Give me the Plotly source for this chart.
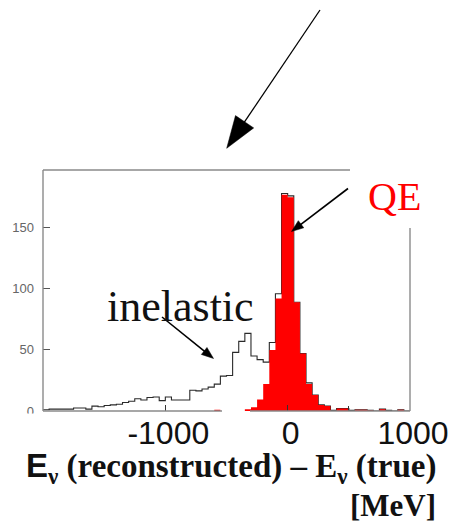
import math
import plotly.graph_objects as go

# ---------------- data ----------------
BIN_START = -2000          # MeV, lower edge of first bin
BIN_WIDTH = 50             # MeV

# all events (black outline histogram), 60 bins from -2000 to 1000 MeV
all_events = [1, 1.5, 1.5, 1.5, 1.5, 2.5, 2.5, 1.5, 4, 3.5,
              4.5, 5, 5.5, 7, 8, 10, 9, 11, 11.5, 8.5,
              11.5, 9, 9, 9, 17, 16.5, 18, 19.5, 22, 28.5,
              29, 48, 57, 63.5, 45, 42, 40, 56, 96, 178,
              176, 89, 47, 23, 13, 5, 4, 0.5, 2, 2,
              0.5, 1, 1, 0.5, 0, 1.5, 0.5, 0, 1, 0]

# quasi-elastic events (red filled histogram)
qe_events = [0, 0, 0, 0, 0, 0, 0, 0, 0, 0,
             0, 0, 0, 0, 0, 0, 0, 0, 0, 0,
             0, 0, 0, 0, 0, 0, 0, 0, 1, 0,
             0, 0, 0, 1.5, 3, 9.5, 22, 50, 92, 177,
             175, 89, 47, 22, 13, 5, 4, 0, 2, 2,
             0, 1, 1, 0.5, 0, 1.5, 0, 0, 1, 0]

x_tick_vals = [-1000, 0, 1000]
x_tick_text = ["-1000", "0", "1000"]
x_minor_tick_vals = [500]
y_tick_vals = [0, 50, 100, 150]
y_tick_text = ["0", "50", "100", "150"]

X_RANGE = [-2000, 1000]
Y_RANGE = [0, 197.2]

# ---------------- layout geometry (pixels) ----------------
W, H = 455, 523
ML, MR, MT, MB = 43, 45, 170, 112
PW = W - ML - MR
PH = H - MT - MB


def px(x):
    return (x - ML) / PW


def py(y):
    return (H - MB - y) / PH


edges = [BIN_START + BIN_WIDTH * i for i in range(len(all_events) + 1)]

fig = go.Figure()

# black outline (all events)
fig.add_trace(go.Scatter(
    x=edges, y=all_events + [all_events[-1]],
    mode="lines", line=dict(shape="hv", color="#2a2a2a", width=1.1),
    hoverinfo="skip", showlegend=False))

# red filled QE histogram
fig.add_trace(go.Scatter(
    x=edges, y=qe_events + [qe_events[-1]],
    mode="lines", line=dict(shape="hv", color="#ff0000", width=0),
    fill="tozeroy", fillcolor="#ff0000",
    hoverinfo="skip", showlegend=False))

shapes = []
FRAME = dict(color="#8a8a8a", width=1.4)


def seg(x0, y0, x1, y1, line):
    shapes.append(dict(type="line", xref="paper", yref="paper",
                       x0=x0, y0=y0, x1=x1, y1=y1, line=line, layer="above"))


# frame (partially hidden in the original)
seg(0, 0, 0, 1, FRAME)
seg(0, 1, px(350), 1, FRAME)
seg(1, 0, 1, py(228), FRAME)
seg(0, 0, px(222), 0, FRAME)
seg(px(250), 0, 1, 0, FRAME)

# white patch that hides the lower half of the "0" y label
shapes.append(dict(type="rect", xref="paper", yref="paper",
                   x0=px(0), x1=px(41), y0=py(421), y1=py(413.5),
                   fillcolor="white", line=dict(width=0), layer="above"))


def arrow(tail, tip, head_len, head_w, lw):
    dx, dy = tip[0] - tail[0], tip[1] - tail[1]
    d = math.hypot(dx, dy)
    ux, uy = dx / d, dy / d
    bx, by = tip[0] - ux * head_len, tip[1] - uy * head_len
    nx, ny = -uy, ux
    c1 = (bx + nx * head_w / 2, by + ny * head_w / 2)
    c2 = (bx - nx * head_w / 2, by - ny * head_w / 2)
    seg(px(tail[0]), py(tail[1]), px(bx + ux * 1), py(by + uy * 1),
        dict(color="black", width=lw))
    path = "M{},{} L{},{} L{},{} Z".format(
        px(tip[0]), py(tip[1]), px(c1[0]), py(c1[1]), px(c2[0]), py(c2[1]))
    shapes.append(dict(type="path", xref="paper", yref="paper", path=path,
                       fillcolor="black", line=dict(color="black", width=0.5),
                       layer="above"))


arrow((320, 10), (226.7, 148.3), 32, 22, 1.3)
arrow((348, 188.5), (291.5, 231.5), 12, 9, 1.6)
arrow((162, 317), (213.5, 358.5), 12, 9, 1.6)

annotations = [
    dict(text="QE", x=px(394), y=py(196), xref="paper", yref="paper",
         xanchor="center", yanchor="middle", showarrow=False,
         font=dict(family="Liberation Serif", size=40, color="#ff0000")),
    dict(text="inelastic", x=px(180), y=py(306), xref="paper", yref="paper",
         xanchor="center", yanchor="middle", showarrow=False,
         font=dict(family="Liberation Serif", size=44, color="#111111")),
    dict(text="<b><span style='font-family:Liberation Sans'>E</span><sub>ν</sub>"
              " (reconstructed) – E<sub>ν</sub> (true)</b>",
         x=px(438), y=py(468), xref="paper", yref="paper",
         xanchor="right", yanchor="middle", showarrow=False,
         font=dict(family="Liberation Serif", size=33, color="#111111")),
    dict(text="<b>[MeV]</b>", x=px(438), y=py(505), xref="paper", yref="paper",
         xanchor="right", yanchor="middle", showarrow=False,
         font=dict(family="Liberation Serif", size=31, color="#111111")),
]

fig.update_layout(
    width=W, height=H,
    margin=dict(l=ML, r=MR, t=MT, b=MB, pad=0, autoexpand=False),
    paper_bgcolor="white", plot_bgcolor="white",
    shapes=shapes, annotations=annotations,
    showlegend=False,
    xaxis=dict(range=X_RANGE, showgrid=False, zeroline=False, showline=False,
               automargin=False,
               tickmode="array", tickvals=x_tick_vals, ticktext=x_tick_text,
               ticks="inside", ticklen=6, tickwidth=1.3, tickcolor="#333333",
               ticklabelshift=3,
               minor=dict(tickmode="array", tickvals=x_minor_tick_vals,
                          ticks="inside", ticklen=5, tickwidth=1.3,
                          tickcolor="#333333"),
               tickfont=dict(family="Liberation Sans", size=32, color="#111111")),
    yaxis=dict(range=Y_RANGE, showgrid=False, zeroline=False, showline=False,
               automargin=False,
               tickmode="array", tickvals=y_tick_vals, ticktext=y_tick_text,
               ticks="inside", ticklen=7, tickwidth=1.2, tickcolor="#555555",
               ticklabelstandoff=8,
               tickfont=dict(family="Liberation Sans", size=13, color="#666666")),
)

fig.write_html("out.html")
